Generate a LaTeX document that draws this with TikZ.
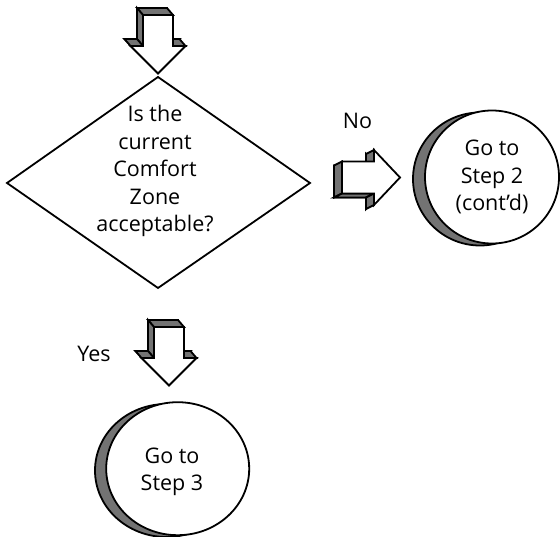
\documentclass[tikz,border=0pt]{standalone}
\usepackage{fontspec}
\setmainfont{Open Sans}
\usetikzlibrary{shapes.geometric}
\definecolor{shade}{RGB}{115,115,115}
\tikzset{
  outl/.style={draw=black,line width=1.8pt,line join=miter},
  side/.style={outl,fill=shade},
  face/.style={outl,fill=white},
  lbl/.style={inner sep=0pt,font=\fontsize{21.5}{27.5}\selectfont,align=center},
  bubble/.style={ellipse,outl,fill=white,inner sep=0pt},
  bubbleshadow/.style={ellipse,outl,fill=shade,inner sep=0pt}
}
\newcommand{\DownBlockArrow}[3]{% name, x, y of shaft top centre; extrusion (-6,-7)
  \begin{scope}[shift={(#2,#3)}]
    \path[side] (-21,-7) -- (9,-7) -- (9,24) -- (21.5,24) -- (-6,51.5) -- (-33.5,24) -- (-21,24) -- cycle;
    \path[side] (-15,0) -- (15,0) -- (9,-7) -- (-21,-7) -- cycle;
    \path[side] (-15,31) -- (-15,0) -- (-21,-7) -- (-21,24) -- cycle;
    \path[side] (-27.5,31) -- (-15,31) -- (-21,24) -- (-33.5,24) -- cycle;
    \path[side] (15,31) -- (27.5,31) -- (21.5,24) -- (9,24) -- cycle;
    \path[face] (-15,0) -- (15,0) -- (15,31) -- (27.5,31) -- (0,58.5) -- (-27.5,31) -- (-15,31) -- cycle;
    \coordinate (#1) at (0,58.5);
  \end{scope}}
\newcommand{\RightBlockArrow}[3]{% name, x of shaft left, y of centre; extrusion (-8,4)
  \begin{scope}[shift={(#2,#3)}]
    \path[side] (-8,-12) -- (24,-12) -- (24,-23.5) -- (50,4) -- (24,31.5) -- (24,20) -- (-8,20) -- cycle;
    \path[side] (0,16) -- (0,-16) -- (-8,-12) -- (-8,20) -- cycle;
    \path[side] (32,16) -- (0,16) -- (-8,20) -- (24,20) -- cycle;
    \path[side] (32,-16) -- (32,-27.5) -- (24,-23.5) -- (24,-12) -- cycle;
    \path[side] (32,27.5) -- (32,16) -- (24,20) -- (24,31.5) -- cycle;
    \path[face] (0,-16) -- (32,-16) -- (32,-27.5) -- (58,0) -- (32,27.5) -- (32,16) -- (0,16) -- cycle;
    \coordinate (#1) at (58,0);
  \end{scope}}
\begin{document}
\begin{tikzpicture}[x=1pt,y=-1pt]
  \useasboundingbox (0,0) rectangle (560,537);
  % entry arrow
  \DownBlockArrow{inarrow}{158}{15}
  % decision diamond
  \coordinate (dtop) at (158,77);
  \coordinate (dright) at (310,183);
  \coordinate (dbottom) at (158,288);
  \coordinate (dleft) at (7,183);
  \path[face] (dtop) -- (dright) -- (dbottom) -- (dleft) -- cycle;
  \node[lbl,anchor=north] (question) at (155,102.2)
    {\strut Is the\\\strut current\\\strut Comfort\\\strut Zone\\\strut acceptable?};
  % No branch
  \RightBlockArrow{noarrow}{342}{177.5}
  \node[lbl,anchor=base] (no) at (357.5,128.3) {No};
  \node[bubbleshadow,minimum width=134pt,minimum height=133pt] (step2s) at (480,179) {};
  \node[bubble,minimum width=134pt,minimum height=133pt] (step2) at (492,177) {};
  \node[lbl,anchor=north] (step2t) at (492,136.5) {\strut Go to\\\strut Step 2\\\strut (cont’d)};
  % Yes branch
  \DownBlockArrow{yesarrow}{169}{327}
  \node[lbl,anchor=base] (yes) at (94,361.7) {Yes};
  \node[bubbleshadow,minimum width=143pt,minimum height=133pt] (step3s) at (166.5,470.5) {};
  \node[bubble,minimum width=143pt,minimum height=133pt] (step3) at (177.7,468.7) {};
  \node[lbl,anchor=north] (step3t) at (172,444) {\strut Go to\\\strut Step 3};
\end{tikzpicture}
\end{document}
